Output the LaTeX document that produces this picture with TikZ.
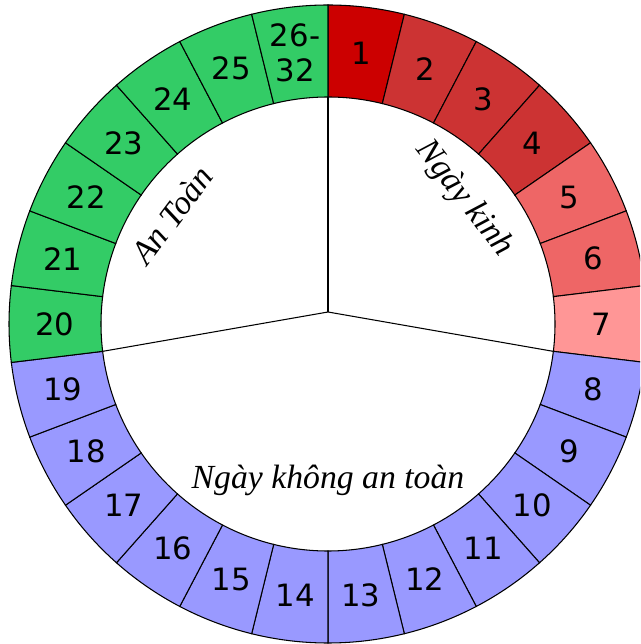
\documentclass[tikz,border=0pt]{standalone}
\usepackage{fontspec}
\setmainfont{Liberation Serif}
\newfontfamily\numfont{DejaVu Sans}
\usepackage{tikz}
\usetikzlibrary{positioning}
\definecolor{kinhA}{HTML}{CC0000}
\definecolor{kinhB}{HTML}{CC3333}
\definecolor{kinhC}{HTML}{EE6666}
\definecolor{kinhD}{HTML}{FF9696}
\definecolor{unsafe}{HTML}{9999FF}
\definecolor{safe}{HTML}{33CC66}

\begin{document}
\begin{tikzpicture}[
  x=0.02cm, y=0.02cm,
  seg/.style={draw=black, line width=0.6pt},
  num/.style={font=\numfont\fontsize{17.5}{20}\selectfont, align=center, inner sep=0pt},
  lbl/.style={font=\itshape\fontsize{19.2}{21}\selectfont, inner sep=0pt}]
\useasboundingbox (-328,-320) rectangle (312,324);
\clip (-328,-320) rectangle (312,324);
\coordinate (hub) at (0,12);
\coordinate (dTop) at (90:227);
\coordinate (dRight) at ({90-7*360/26}:227);
\coordinate (dLeft) at ({90-19*360/26}:227);
\draw[seg] (hub) -- (dTop);
\draw[seg] (hub) -- (dRight);
\draw[seg] (hub) -- (dLeft);
\foreach \i/\c/\t in {1/kinhA/1, 2/kinhB/2, 3/kinhB/3, 4/kinhB/4, 5/kinhC/5, 6/kinhC/6, 7/kinhD/7,
  8/unsafe/8, 9/unsafe/9, 10/unsafe/10, 11/unsafe/11, 12/unsafe/12, 13/unsafe/13, 14/unsafe/14,
  15/unsafe/15, 16/unsafe/16, 17/unsafe/17, 18/unsafe/18, 19/unsafe/19,
  20/safe/20, 21/safe/21, 22/safe/22, 23/safe/23, 24/safe/24, 25/safe/25, 26/safe/{26-\\32}} {
  \pgfmathsetmacro\a{90-(\i-1)*360/26}
  \pgfmathsetmacro\b{\a-360/26}
  \pgfmathsetmacro\m{\a-180/26}
  \filldraw[seg, fill=\c] (\a:319) arc[start angle=\a, end angle=\b, radius=319]
    -- (\b:227) arc[start angle=\b, end angle=\a, radius=227] -- cycle;
  \node[num] (seg\i) at (\m:273) {\t};
}
\node[lbl, rotate=-52] (kinh) at (136,125) {Ngày kinh};
\node[lbl, rotate=53] (antoan) at (-156,109) {An Toàn};
\node[lbl, anchor=base] (khong) at (0,-164) {Ngày không an toàn};
\end{tikzpicture}
\end{document}
